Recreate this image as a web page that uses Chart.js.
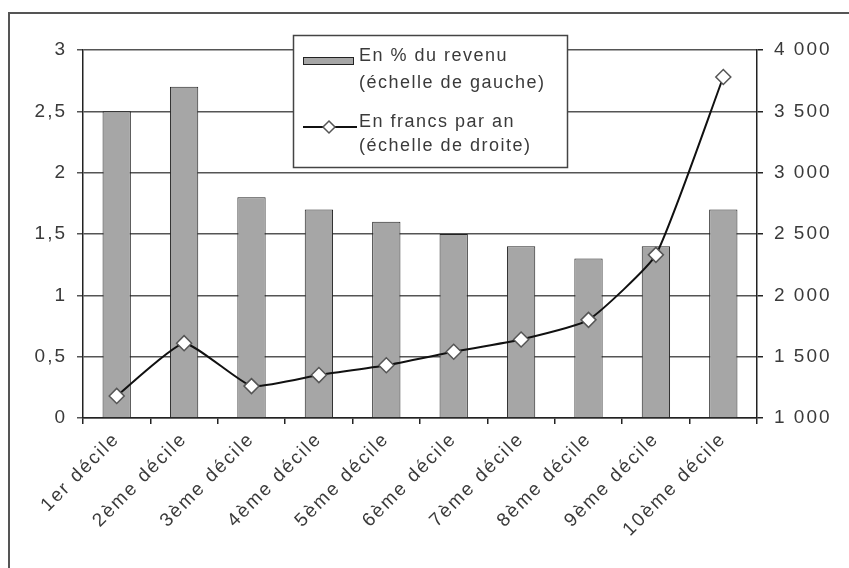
<!DOCTYPE html>
<html><head><meta charset="utf-8">
<script src="https://cdn.jsdelivr.net/npm/chart.js@4/dist/chart.umd.min.js"></script>
<style>html,body{margin:0;padding:0;background:#fff}#wrap{position:relative;width:849px;height:568px}</style>
</head><body><div id="wrap"><canvas id="c" width="849" height="568"></canvas></div>
<script>
const categories = ['1er décile','2ème décile','3ème décile','4ème décile','5ème décile','6ème décile','7ème décile','8ème décile','9ème décile','10ème décile'];
const pctRevenu = [2.5, 2.7, 1.8, 1.7, 1.6, 1.5, 1.4, 1.3, 1.4, 1.7];
const francsParAn = [1180, 1610, 1260, 1350, 1430, 1540, 1640, 1800, 2330, 3780];
const leftRange = [0, 3, 0.5];
const rightRange = [1000, 4000, 500];
const seriesLabels = [['En % du revenu', '(échelle de gauche)'], ['En francs par an', '(échelle de droite)']];

const FONT = '"Liberation Sans", Arial, sans-serif';
const TXT = '#3a3a3a';

const framePlugin = {
  id: 'frame',
  beforeDraw(chart) {
    const ctx = chart.ctx;
    ctx.save();
    ctx.fillStyle = '#fff';
    ctx.fillRect(0, 0, chart.width, chart.height);
    ctx.strokeStyle = '#555';
    ctx.lineWidth = 2;
    ctx.beginPath();
    ctx.moveTo(9, chart.height);
    ctx.lineTo(9, 13);
    ctx.lineTo(chart.width, 13);
    ctx.stroke();
    ctx.restore();
    ctx.letterSpacing = '2px';
  }
};

const legendPlugin = {
  id: 'boxLegend',
  afterDatasetsDraw(chart) {
    const ctx = chart.ctx;
    const ds = chart.data.datasets;
    ctx.save();
    const bx = 293, by = 35, bw = 274, bh = 132;
    ctx.fillStyle = '#fff';
    ctx.fillRect(bx, by, bw, bh);
    ctx.strokeStyle = '#444';
    ctx.lineWidth = 1.5;
    ctx.strokeRect(bx + 0.5, by + 0.5, bw, bh);
    ctx.font = '18px ' + FONT;
    ctx.fillStyle = TXT;
    ctx.textBaseline = 'alphabetic';
    ctx.textAlign = 'left';
    ctx.letterSpacing = '1.5px';
    const tx = 359;
    const baselines = [[61, 88], [127, 151]];
    ds.forEach((d, i) => {
      d.label.forEach((t, j) => ctx.fillText(t, tx, baselines[i][j]));
    });
    ctx.fillStyle = ds[0].backgroundColor;
    ctx.fillRect(303, 57, 50, 7);
    ctx.strokeStyle = '#222';
    ctx.lineWidth = 1;
    ctx.strokeRect(303.5, 57.5, 50, 7);
    ctx.strokeStyle = ds[1].borderColor;
    ctx.lineWidth = 2;
    ctx.beginPath();
    ctx.moveTo(303, 127);
    ctx.lineTo(357, 127);
    ctx.stroke();
    ctx.fillStyle = '#fff';
    ctx.strokeStyle = '#555';
    ctx.lineWidth = 1.5;
    ctx.beginPath();
    const cx = 329, cy = 127, r = 6;
    ctx.moveTo(cx, cy - r); ctx.lineTo(cx + r, cy); ctx.lineTo(cx, cy + r); ctx.lineTo(cx - r, cy); ctx.closePath();
    ctx.fill(); ctx.stroke();
    ctx.restore();
  }
};

const fmtLeft = v => String(v).replace('.', ',');
const fmtRight = v => { const s = String(v); return s.length > 3 ? s.slice(0, -3) + ' ' + s.slice(-3) : s; };

new Chart(document.getElementById('c'), {
  type: 'bar',
  data: {
    labels: categories,
    datasets: [
      {
        type: 'bar',
        label: seriesLabels[0],
        data: pctRevenu,
        yAxisID: 'yL',
        backgroundColor: '#a6a6a6',
        borderColor: '#222',
        borderWidth: 1,
        barPercentage: 0.42,
        categoryPercentage: 1,
        order: 2
      },
      {
        type: 'line',
        label: seriesLabels[1],
        data: francsParAn,
        yAxisID: 'yR',
        borderColor: '#111',
        borderWidth: 2,
        tension: 0.15,
        pointStyle: 'rectRot',
        pointRadius: 7.5,
        pointBackgroundColor: '#fff',
        pointBorderColor: '#555',
        pointBorderWidth: 1.5,
        order: 1
      }
    ]
  },
  options: {
    responsive: false,
    animation: false,
    devicePixelRatio: 1,
    layout: { padding: { top: 50, left: 0, right: 0, bottom: 0 } },
    plugins: { legend: { display: false }, tooltip: { enabled: false }, title: { display: false } },
    scales: {
      x: {
        offset: true,
        grid: { offset: true, drawOnChartArea: false, drawTicks: true, tickLength: 6, color: '#222', lineWidth: 1.5 },
        border: { color: '#222', width: 1.5 },
        ticks: { font: { family: FONT, size: 19 }, color: TXT, maxRotation: 45, minRotation: 45, autoSkip: false, padding: 4 },
        afterFit: s => { s.height = 150; }
      },
      yL: {
        position: 'left',
        min: leftRange[0], max: leftRange[1],
        ticks: { stepSize: leftRange[2], callback: fmtLeft, font: { family: FONT, size: 19 }, color: TXT, padding: 10 },
        grid: { color: '#555', lineWidth: 1.5, tickLength: 6 },
        border: { color: '#222', width: 1.5 },
        afterFit: s => { s.width = 83; }
      },
      yR: {
        position: 'right',
        min: rightRange[0], max: rightRange[1],
        ticks: { stepSize: rightRange[2], callback: fmtRight, font: { family: FONT, size: 19 }, color: TXT, padding: 11 },
        grid: { drawOnChartArea: false, color: '#222', lineWidth: 1.5, tickLength: 6 },
        border: { color: '#222', width: 1.5 },
        afterFit: s => { s.width = 92; }
      }
    }
  },
  plugins: [framePlugin, legendPlugin]
});
</script></body></html>
